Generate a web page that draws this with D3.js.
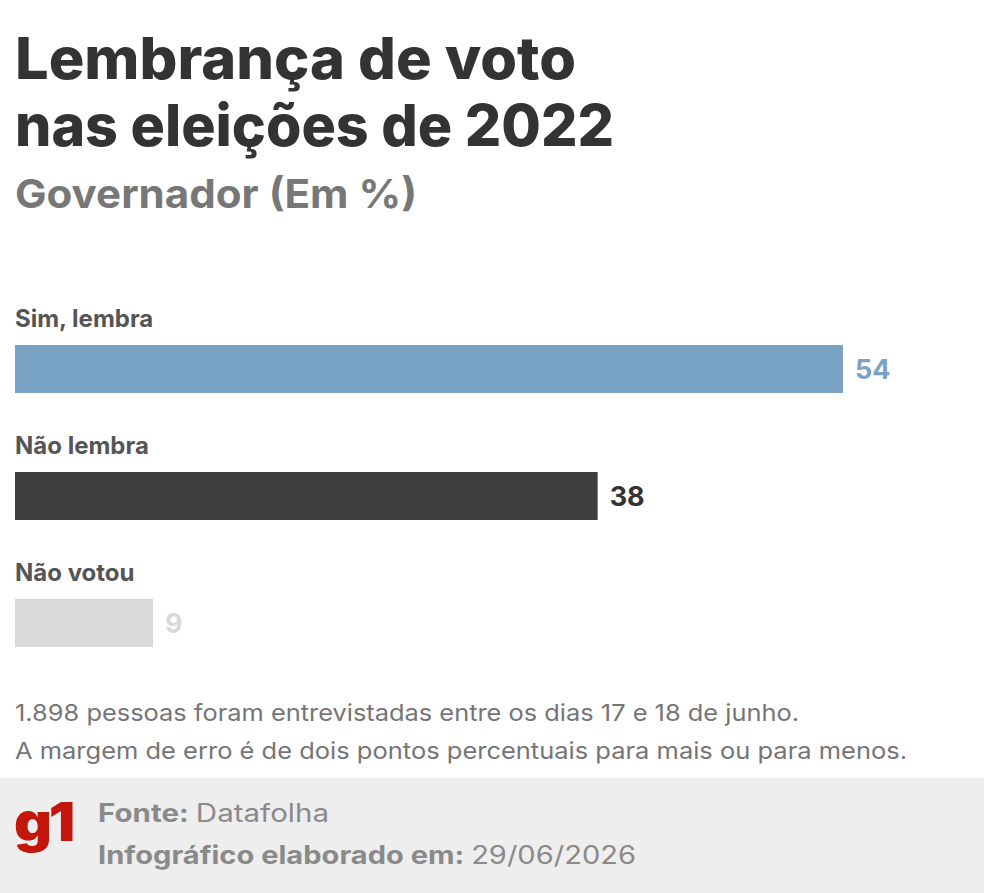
<!DOCTYPE html>
<html><head><meta charset="utf-8">
<script src="https://cdn.jsdelivr.net/npm/d3@7"></script>
<style>
html,body{margin:0;padding:0;background:#fff;}
svg{display:block;}
</style></head>
<body>
<script>
const categories = ["Sim, lembra", "Não lembra", "Não votou"];
const values = [54, 38, 9];
const barColors = ["#78a3c4", "#3e3e3e", "#d9d9d9"];
const valueColors = ["#78a3c4", "#333333", "#d9d9d9"];

const W = 984, H = 893;
const svg = d3.select("body").append("svg").attr("width", W).attr("height", H);

const FONT = "Inter, 'Open Sans', Lato, sans-serif";

function fit(sel, target) {
  const n = sel.node().getComputedTextLength();
  if (Math.abs(n - target) > 1) sel.attr("textLength", target).attr("lengthAdjust", "spacingAndGlyphs");
  return sel;
}

fit(svg.append("text").attr("x", 15).attr("y", 79).text("Lembrança de voto")
  .attr("font-family", FONT).attr("font-weight", 800).attr("font-size", 58).attr("fill", "#333"), 561);
fit(svg.append("text").attr("x", 15).attr("y", 146).text("nas eleições de 2022")
  .attr("font-family", FONT).attr("font-weight", 800).attr("font-size", 58).attr("fill", "#333"), 599);
fit(svg.append("text").attr("x", 15).attr("y", 208).text("Governador (Em %)")
  .attr("font-family", FONT).attr("font-weight", 700).attr("font-size", 40).attr("fill", "#777"), 402);

const x = d3.scaleLinear().domain([0, 54]).range([15, 843]);
const y = d3.scaleBand().domain(categories).range([345, 647]).paddingInner(79/127).paddingOuter(0);

const g = svg.append("g");
categories.forEach((c, i) => {
  const by = y(c);
  g.append("text").attr("x", 15).attr("y", by - 18).text(c)
    .attr("font-family", FONT).attr("font-weight", 700).attr("font-size", 24).attr("fill", "#555");
  g.append("rect").attr("x", x(0)).attr("y", by).attr("width", x(values[i]) - x(0)).attr("height", y.bandwidth())
    .attr("fill", barColors[i]);
  g.append("text").attr("x", x(values[i]) + 12).attr("y", by + y.bandwidth()/2 + 10).text(values[i])
    .attr("font-family", FONT).attr("font-weight", 700).attr("font-size", 27).attr("fill", valueColors[i]);
});

fit(svg.append("text").attr("x", 15).attr("y", 721).text("1.898 pessoas foram entrevistadas entre os dias 17 e 18 de junho.")
  .attr("font-family", FONT).attr("font-size", 23).attr("fill", "#757575"), 784);
fit(svg.append("text").attr("x", 15).attr("y", 759).text("A margem de erro é de dois pontos percentuais para mais ou para menos.")
  .attr("font-family", FONT).attr("font-size", 23).attr("fill", "#757575"), 892);

svg.append("rect").attr("x", 0).attr("y", 778).attr("width", W).attr("height", H - 778).attr("fill", "#eeeeee");
fit(svg.append("text").attr("x", 14).attr("y", 841).text("g1")
  .attr("font-family", FONT).attr("font-weight", 900).attr("font-size", 54).attr("fill", "#c4170c").attr("letter-spacing", -3), 58);

const f1 = svg.append("text").attr("x", 98).attr("y", 822).attr("font-family", FONT).attr("font-size", 25).attr("fill", "#8a8a8a");
f1.append("tspan").attr("font-weight", 700).text("Fonte: ");
f1.append("tspan").text("Datafolha");
fit(f1, 231);
const f2 = svg.append("text").attr("x", 98).attr("y", 864).attr("font-family", FONT).attr("font-size", 25).attr("fill", "#8a8a8a");
f2.append("tspan").attr("font-weight", 700).text("Infográfico elaborado em: ");
f2.append("tspan").text("29/06/2026");
fit(f2, 538);
</script>
</body></html>
